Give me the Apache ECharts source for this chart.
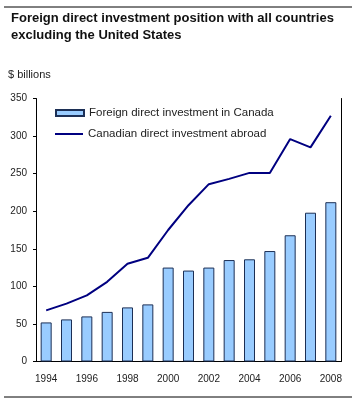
<!DOCTYPE html>
<html>
<head>
<meta charset="utf-8">
<script src="https://cdn.jsdelivr.net/npm/echarts@6/dist/echarts.min.js"></script>
<style>
html,body{margin:0;padding:0;background:#fff;}
#c{width:357px;height:400px;}
</style>
</head>
<body>
<div id="c"></div>
<script>
const years = ['1994','1995','1996','1997','1998','1999','2000','2001','2002','2003','2004','2005','2006','2007','2008'];
const fdiCanada = [52, 56, 60, 66, 72, 76, 125, 121, 125, 135, 136, 147, 168, 198, 212];
const cdiAbroad = [68, 77, 88, 106, 130, 138, 175, 208, 236, 243, 251, 251, 296, 285, 327];
const yTicks = [0, 50, 100, 150, 200, 250, 300, 350];
const titleText = 'Foreign direct investment position with all countries\nexcluding the United States';
const unitText = '$ billions';
const seriesNames = ['Foreign direct investment in Canada', 'Canadian direct investment abroad'];

const chart = echarts.init(document.getElementById('c'), null, {renderer: 'canvas'});
const font = 'Liberation Sans, Arial, sans-serif';
const legendText = {fontFamily: font, fontSize: 11.5, color: '#222'};
chart.setOption({
  animation: false,
  backgroundColor: '#fff',
  textStyle: {fontFamily: font},
  title: [{
    text: titleText,
    left: 11, top: 10, padding: 0,
    textStyle: {fontFamily: font, fontSize: 13, fontWeight: 'bold', color: '#111', lineHeight: 17}
  }, {
    text: unitText,
    left: 8, top: 69, padding: 0,
    textStyle: {fontFamily: font, fontSize: 11, fontWeight: 'normal', color: '#222'}
  }],
  graphic: [
    {type: 'line', shape: {x1: 4, y1: 7, x2: 352, y2: 7}, style: {stroke: '#000', lineWidth: 1}},
    {type: 'line', shape: {x1: 4, y1: 397, x2: 352, y2: 397}, style: {stroke: '#000', lineWidth: 1}}
  ],
  legend: [{
    left: 55, top: 107, padding: 0,
    itemWidth: 28, itemHeight: 6,
    textStyle: legendText,
    data: [{name: seriesNames[0], icon: 'rect'}]
  }, {
    left: 55, top: 128, padding: 0,
    itemWidth: 28, itemHeight: 2,
    textStyle: legendText,
    data: [{name: seriesNames[1], icon: 'rect'}]
  }],
  grid: {left: 36, right: 16, top: 98.5, bottom: 38.5, containLabel: false},
  xAxis: {
    type: 'category',
    data: years,
    axisLine: {lineStyle: {color: '#000', width: 1}},
    axisTick: {show: false},
    axisLabel: {
      interval: 1, color: '#222', fontSize: 10, fontFamily: font, margin: 13
    }
  },
  yAxis: [{
    type: 'value', min: 0, max: 350, interval: 50,
    axisLine: {show: true, lineStyle: {color: '#000', width: 1}},
    axisTick: {show: true, length: 3, lineStyle: {color: '#000'}},
    splitLine: {show: false},
    axisLabel: {color: '#222', fontSize: 10, fontFamily: font, margin: 9,
      formatter: v => yTicks.includes(v) ? String(v) : ''}
  }, {
    type: 'value', min: 0, max: 350, interval: 50, position: 'right',
    axisLine: {show: true, lineStyle: {color: '#000', width: 1}},
    axisTick: {show: false}, axisLabel: {show: false}, splitLine: {show: false}
  }],
  series: [{
    name: seriesNames[0],
    type: 'bar',
    data: fdiCanada,
    barWidth: 11,
    itemStyle: {color: '#99CCFF', borderColor: '#1c2f55', borderWidth: 1}
  }, {
    name: seriesNames[1],
    type: 'line',
    data: cdiAbroad,
    symbol: 'none',
    lineStyle: {color: '#000080', width: 2},
    itemStyle: {color: '#000080'}
  }]
});
</script>
</body>
</html>
